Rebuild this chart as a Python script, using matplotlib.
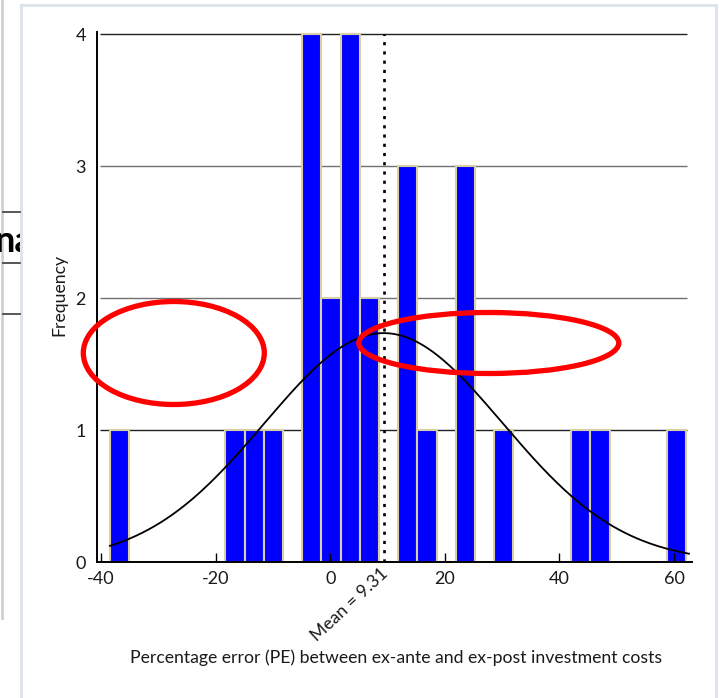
import numpy as np
import matplotlib
matplotlib.use("Agg")
import matplotlib.pyplot as plt
from matplotlib.patches import Ellipse, Rectangle
from matplotlib.lines import Line2D

# ---------------- data ----------------
bin_start = -38.43
bin_width = 3.353
counts = [1, 0, 0, 0, 0, 0, 1, 1, 1, 0, 4, 2, 4, 2, 0, 3, 1, 0, 3, 0,
          1, 0, 0, 0, 1, 1, 0, 0, 0, 1]
mean_pe = 9.31
sd_pe = 20.8
x_ticks = [-40, -20, 0, 20, 40, 60]
y_ticks = [0, 1, 2, 3, 4]
grid_levels = [1, 2, 3, 4]
x_label = "Percentage error (PE) between ex-ante and ex-post investment costs"
y_label = "Frequency"
mean_label = "Mean = 9.31"

plt.rcParams['font.family'] = ['Lato', 'DejaVu Sans']
plt.rcParams['axes.unicode_minus'] = False

W, H = 719, 698
fig = plt.figure(figsize=(W / 100, H / 100), dpi=100)
fig.patch.set_facecolor('white')

# axes placement (pixels -> fraction)
ax_left, ax_right = 97, 691.8
ax_bottom_px = 562.3
ylim_top = 4.02
px_per_unit_y = 132.0
ax_h_px = ylim_top * px_per_unit_y
ax = fig.add_axes([ax_left / W, 1 - ax_bottom_px / H, (ax_right - ax_left) / W, ax_h_px / H])
ax.set_facecolor('white')
ax.set_xlim(-40.7, 63.1)
ax.set_ylim(0, ylim_top)

# gridlines
grid_colors = ['#202020', '#707070', '#707070', '#202020']
for lvl, c in zip(grid_levels, grid_colors):
    ax.hlines(lvl, -40.2, 62.2, color=c, lw=1.0, zorder=0.5)

# histogram bars
edges = bin_start + bin_width * np.arange(len(counts))
ax.bar(edges, counts, width=bin_width, align='edge', color='#0000FF',
       edgecolor='#D8D0A4', linewidth=1.5, zorder=1)

# normal curve
xs = np.linspace(bin_start, 62.6, 400)
n_total = sum(counts)
ys = n_total * bin_width / (sd_pe * np.sqrt(2 * np.pi)) * np.exp(-0.5 * ((xs - mean_pe) / sd_pe) ** 2)
ax.plot(xs, ys, color='black', lw=1.3, zorder=3)

# mean line
ax.plot([mean_pe, mean_pe], [0, 4], color='black', lw=1.9,
        linestyle=(0, (1.2, 2.3)), dash_capstyle='butt', zorder=3)

# spines
for s in ['top', 'right']:
    ax.spines[s].set_visible(False)
for s in ['left', 'bottom']:
    ax.spines[s].set_color('black')
    ax.spines[s].set_linewidth(1.4)
    ax.spines[s].set_zorder(4)

ax.set_xticks(x_ticks)
ax.set_yticks(y_ticks)
ax.tick_params(axis='x', direction='in', length=6.5, width=1.0, color='black',
               pad=6, labelsize=13, labelcolor='#1a1a1a')
ax.tick_params(axis='y', length=0, pad=8, labelsize=13, labelcolor='#1a1a1a')

ax.set_xlabel(x_label, fontsize=12.7, color='#1a1a1a')
ax.xaxis.set_label_coords(0.5027, -0.165)
ax.set_ylabel(y_label, fontsize=12.7, color='#1a1a1a')
ax.yaxis.set_label_coords(-0.05, 0.504)

ax.annotate(mean_label, xy=(mean_pe, 0), xycoords=('data', 'axes fraction'),
            xytext=(8, -3), textcoords='offset pixels', rotation=43,
            ha='right', va='top', fontsize=12.7, color='#1a1a1a')

# ---------------- page background decorations ----------------
frame_c = '#DCE3EC'
fig.add_artist(Line2D([21 / W, 21 / W], [0, 1 - 5 / H], transform=fig.transFigure,
                      color=frame_c, lw=2, zorder=5))
fig.add_artist(Line2D([21 / W, 716 / W], [1 - 5 / H, 1 - 5 / H], transform=fig.transFigure,
                      color=frame_c, lw=2, zorder=5))
fig.add_artist(Line2D([716 / W, 716 / W], [0, 1 - 5 / H], transform=fig.transFigure,
                      color=frame_c, lw=2, zorder=5))
fig.add_artist(Line2D([2 / W, 2 / W], [1 - 618 / H, 1], transform=fig.transFigure,
                      color='#D0D0D0', lw=2, zorder=5))
for yy in [211.7, 263.3, 314.3]:
    fig.add_artist(Line2D([3 / W, 20 / W], [1 - yy / H, 1 - yy / H], transform=fig.transFigure,
                          color='#3a3a3a', lw=1.2, zorder=5))
t = fig.text(-5 / W, 1 - 252 / H, "na", fontsize=26, fontweight='bold', color='black',
             ha='left', va='baseline', zorder=5)
t.set_clip_path(Rectangle((0, 0), 20 / W, 1, transform=fig.transFigure))

# red annotation ellipses
fig.add_artist(Ellipse((173.8 / W, 1 - 353 / H), 181 / W, 103 / H, transform=fig.transFigure,
                       fill=False, edgecolor='#FF0000', lw=3.8, zorder=10))
fig.add_artist(Ellipse((488.8 / W, 1 - 343 / H), 260 / W, 61 / H, transform=fig.transFigure,
                       fill=False, edgecolor='#FF0000', lw=3.8, zorder=10))

fig.savefig('out.png', dpi=100, facecolor='white')
